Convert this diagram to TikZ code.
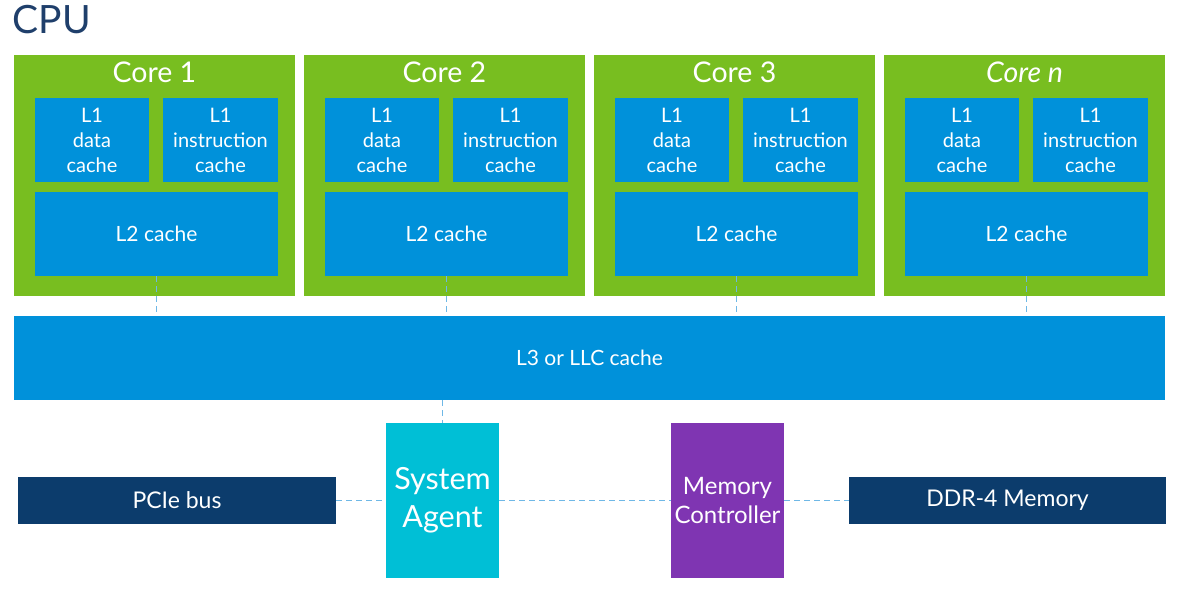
\documentclass[tikz,border=0pt]{standalone}
\usepackage{fontspec}
\setmainfont{Lato}
\definecolor{cgreen}{HTML}{78BE20}
\definecolor{cblue}{HTML}{0091DA}
\definecolor{cnavy}{HTML}{0C3C6C}
\definecolor{ccyan}{HTML}{00BFD6}
\definecolor{cpurple}{HTML}{7F35B2}
\definecolor{cdash}{HTML}{6FB8E6}
\definecolor{ctitle}{HTML}{1F3F6B}
\begin{document}
\begin{tikzpicture}[x=1pt,y=-1pt,
  box/.style={draw=none,inner sep=0pt,text=white,align=center},
  conn/.style={draw=cdash,line width=0.9pt,dash pattern=on 6pt off 4pt}]
\useasboundingbox (0,0) rectangle (1178,591);
\node[anchor=west,text=ctitle,font=\fontsize{39}{40}\selectfont] (cpu) at (9,20) {CPU};
% cores
\foreach \i/\lab in {0/{Core 1},1/{Core 2},2/{Core 3},3/{\itshape Core n}}{
  \pgfmathsetmacro{\ox}{14+290*\i}
  \fill[cgreen] (\ox,55) rectangle ++(281,241);
  \node[box,font=\fontsize{28.5}{30}\selectfont] (core\i) at (\ox+140.5,72) {\lab};
  \fill[cblue] (\ox+21,98) rectangle ++(114,84);
  \node[box,font=\fontsize{20}{25}\selectfont] (l1d\i) at (\ox+78,140) {L1\\data\\cache};
  \fill[cblue] (\ox+149,98) rectangle ++(115,84);
  \node[box,font=\fontsize{20}{25}\selectfont] (l1i\i) at (\ox+206.5,140) {L1\\instruction\\cache};
  \node[box,fill=cblue,minimum width=243pt,minimum height=84pt,font=\fontsize{21}{22}\selectfont] (l2\i) at (\ox+142.5,234) {L2 cache};
}
\node[box,fill=cblue,minimum width=1151pt,minimum height=84pt,font=\fontsize{21}{22}\selectfont] (l3) at (589.5,358) {L3 or LLC cache};
\foreach \i in {0,1,2,3}{
  \draw[conn] (l2\i.south) -- (l2\i.south |- l3.north);
}
\node[box,fill=ccyan,minimum width=113pt,minimum height=155pt,font=\fontsize{30.5}{38}\selectfont] (sa) at (442.5,500.5) {System\\Agent};
\node[box,fill=cpurple,minimum width=113pt,minimum height=155pt,font=\fontsize{24}{29}\selectfont] (mc) at (727.5,500.5) {Memory\\Controller};
\node[box,fill=cnavy,minimum width=318pt,minimum height=47pt,font=\fontsize{23}{24}\selectfont] (pcie) at (177,500.5) {PCIe bus};
\node[box,fill=cnavy,minimum width=317pt,minimum height=47pt,font=\fontsize{23}{24}\selectfont] (ddr) at (1007.5,500.5) {DDR-4 Memory};
\draw[conn] (l3.south -| sa.north) -- (sa.north);
\draw[conn] (pcie.east) -- (sa.west);
\draw[conn] (sa.east) -- (mc.west);
\draw[conn] (mc.east) -- (ddr.west);
\end{tikzpicture}
\end{document}
